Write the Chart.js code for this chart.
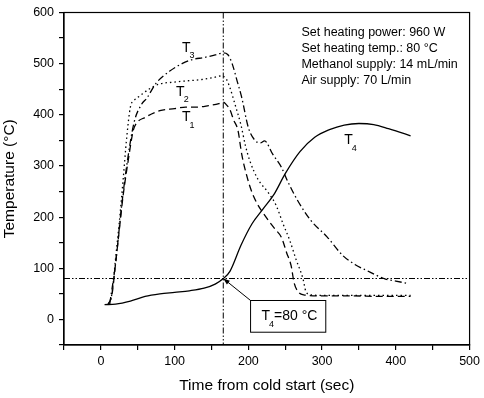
<!DOCTYPE html>
<html>
<head>
<meta charset="utf-8">
<script src="https://cdn.jsdelivr.net/npm/chart.js@4/dist/chart.umd.min.js"></script>
<style>
  html, body { margin: 0; padding: 0; background: #fff; }
  #wrap { width: 484px; height: 398px; }
</style>
</head>
<body>
<div id="wrap"><canvas id="tempChart" width="484" height="398"></canvas></div>
<script>
// time (sec) and temperature (°C)
const t1Time = [10, 15, 20, 25, 30, 37, 44, 48, 60, 80, 100, 115, 130, 146, 160, 166, 170, 175, 180, 186, 191, 198, 204, 211, 220, 228, 236, 245, 252, 258, 262, 267, 275, 300, 340, 380, 420];
const t1Temp = [30, 48, 110, 175, 240, 310, 370, 383, 395, 408, 412, 415, 415, 418, 422, 425, 420, 410, 390, 369, 323, 280, 252, 229, 208, 192, 177, 160, 130, 105, 72, 55, 48, 46, 46, 45, 45];

const t2Time = [10, 15, 20, 25, 30, 35, 40, 45, 53, 65, 79, 100, 113, 137, 150, 164, 170, 175, 182, 190, 196, 202, 213, 227, 238, 247, 256, 265, 274, 278, 285, 300, 340, 380, 420];
const t2Temp = [30, 50, 120, 190, 270, 355, 415, 428, 437, 450, 460, 464, 466, 469, 472, 476, 470, 453, 420, 380, 340, 310, 274, 248, 222, 187, 155, 116, 80, 55, 48, 47, 47, 47, 47];

const t3Time = [12, 20, 28, 35, 45, 55, 62, 75, 93, 110, 124, 140, 155, 166, 172, 178, 185, 191, 200, 209, 216, 222, 233, 245, 253, 267, 285, 307, 328, 345, 360, 386, 400, 417];
const t3Temp = [30, 110, 220, 300, 385, 420, 432, 462, 485, 500, 508, 512, 517, 521, 518, 500, 465, 434, 375, 350, 345, 349, 323, 297, 271, 232, 193, 161, 125, 107, 96, 79, 75, 70];

const t4Time = [5, 20, 40, 60, 80, 100, 120, 140, 155, 166, 175, 190, 205, 220, 235, 250, 270, 290, 310, 330, 350, 370, 390, 405, 420];
const t4Temp = [29, 30, 36, 45, 50, 53, 56, 61, 69, 80, 94, 145, 187, 216, 245, 285, 328, 356, 371, 380, 383, 381, 373, 366, 359];

const markTime = 166;   // vertical guide
const markTemp = 80;    // horizontal guide
const infoLines = ['Set heating power: 960 W', 'Set heating temp.: 80 °C', 'Methanol supply: 14 mL/min', 'Air supply: 70 L/min'];

const FONT = 'Arial, "Liberation Sans", sans-serif';

function pts(xs, ys) {
    return xs.map((x, i) => ({ x: x, y: ys[i] }));
}

function series(label, xs, ys, dash) {
    return {
        label: label,
        data: pts(xs, ys),
        borderColor: '#000',
        borderWidth: 1.3,
        borderDash: dash,
        pointRadius: 0,
        fill: false,
        cubicInterpolationMode: 'monotone'
    };
}

// draws "T" with a small subscript, returns x after it
function subLabel(ctx, px, py, main, sub, size) {
    ctx.font = size + 'px ' + FONT;
    ctx.textAlign = 'left';
    ctx.textBaseline = 'middle';
    ctx.fillText(main, px, py);
    const w = ctx.measureText(main).width;
    ctx.font = Math.round(size * 0.62) + 'px ' + FONT;
    ctx.fillText(sub, px + w - 1, py + size * 0.55);
    const sw = ctx.measureText(sub).width;
    ctx.font = size + 'px ' + FONT;
    return px + w - 1 + sw;
}

const guides = {
    id: 'guides',
    beforeDatasetsDraw(chart) {
        const { ctx, chartArea: a, scales: { x, y } } = chart;
        ctx.save();
        ctx.strokeStyle = '#000';
        ctx.lineWidth = 1;
        ctx.setLineDash([6, 2, 1.5, 2, 1.5, 2]);
        const gx = x.getPixelForValue(markTime);
        const gy = y.getPixelForValue(markTemp);
        ctx.beginPath();
        ctx.moveTo(gx, a.top);
        ctx.lineTo(gx, a.bottom);
        ctx.moveTo(a.left, gy);
        ctx.lineTo(a.right, gy);
        ctx.stroke();
        ctx.restore();
    },
    afterDraw(chart) {
        const { ctx, chartArea: a, scales: { x, y } } = chart;
        ctx.save();
        ctx.strokeStyle = '#000';
        ctx.fillStyle = '#000';
        ctx.lineWidth = 1.2;
        ctx.setLineDash([]);
        ctx.strokeRect(a.left, a.top, a.right - a.left, a.bottom - a.top);

        // series labels
        subLabel(ctx, x.getPixelForValue(110), y.getPixelForValue(531), 'T', '3', 14);
        subLabel(ctx, x.getPixelForValue(102), y.getPixelForValue(444), 'T', '2', 14);
        subLabel(ctx, x.getPixelForValue(110), y.getPixelForValue(395), 'T', '1', 14);
        subLabel(ctx, x.getPixelForValue(330), y.getPixelForValue(350), 'T', '4', 14);

        // info text
        ctx.font = '12.5px ' + FONT;
        ctx.textAlign = 'left';
        ctx.textBaseline = 'middle';
        const tx = x.getPixelForValue(272);
        infoLines.forEach((s, i) => ctx.fillText(s, tx, y.getPixelForValue(560) + i * 16));

        // annotation box + arrow
        const bx0 = x.getPixelForValue(203), bx1 = x.getPixelForValue(305);
        const by0 = y.getPixelForValue(37), by1 = y.getPixelForValue(-25);
        ctx.lineWidth = 1;
        ctx.strokeRect(bx0, by0, bx1 - bx0, by1 - by0);
        const ax = x.getPixelForValue(markTime), ay = y.getPixelForValue(markTemp);
        ctx.beginPath();
        ctx.moveTo(bx0, by0);
        ctx.lineTo(ax, ay);
        ctx.stroke();
        const ang = Math.atan2(by0 - ay, bx0 - ax);
        ctx.beginPath();
        ctx.moveTo(ax, ay);
        ctx.lineTo(ax + 7 * Math.cos(ang - 0.35), ay + 7 * Math.sin(ang - 0.35));
        ctx.lineTo(ax + 7 * Math.cos(ang + 0.35), ay + 7 * Math.sin(ang + 0.35));
        ctx.closePath();
        ctx.fill();

        const cy = (by0 + by1) / 2;
        const end = subLabel(ctx, bx0 + 11, cy, 'T', '4', 14);
        ctx.font = '14px ' + FONT;
        ctx.textBaseline = 'middle';
        ctx.fillText('=80 °C', end, cy);
        ctx.restore();
    }
};

const ctx = document.getElementById('tempChart').getContext('2d');
const chart = new Chart(ctx, {
    type: 'line',
    data: {
        datasets: [
            series('T1', t1Time, t1Temp, [7, 4]),
            series('T2', t2Time, t2Temp, [1.5, 3]),
            series('T3', t3Time, t3Temp, [7, 3, 1.5, 3]),
            series('T4', t4Time, t4Temp, [])
        ]
    },
    options: {
        responsive: false,
        animation: false,
        layout: { padding: { top: 12, right: 10, left: 0, bottom: 0 } },
        plugins: {
            legend: { display: false },
            tooltip: { enabled: false }
        },
        scales: {
            x: {
                type: 'linear',
                min: -50,
                max: 500,
                afterFit: (scale) => { scale.height = 53; },
                ticks: {
                    stepSize: 50,
                    color: '#000',
                    padding: 4,
                    maxRotation: 0,
                    font: { family: FONT, size: 12.5 },
                    callback: (v) => (v % 100 === 0 ? v : '')
                },
                grid: { drawOnChartArea: false, drawTicks: true, tickLength: 5, color: '#000', lineWidth: 1.2 },
                border: { display: true, color: '#000', width: 1.2 },
                title: {
                    display: true,
                    text: 'Time from cold start (sec)',
                    color: '#000',
                    font: { family: FONT, size: 15.5 },
                    padding: { top: 0, bottom: 3 }
                }
            },
            y: {
                min: -50,
                max: 600,
                afterFit: (scale) => { scale.width = 64; },
                ticks: {
                    stepSize: 50,
                    color: '#000',
                    padding: 5,
                    font: { family: FONT, size: 12.5 },
                    callback: (v) => (v % 100 === 0 ? v : '')
                },
                grid: { drawOnChartArea: false, drawTicks: true, tickLength: 5, color: '#000', lineWidth: 1.2 },
                border: { display: true, color: '#000', width: 1.2 },
                title: {
                    display: true,
                    text: 'Temperature (°C)',
                    color: '#000',
                    font: { family: FONT, size: 15.5 },
                    padding: { top: 0, bottom: 0 }
                }
            }
        }
    },
    plugins: [guides]
});
</script>
</body>
</html>
